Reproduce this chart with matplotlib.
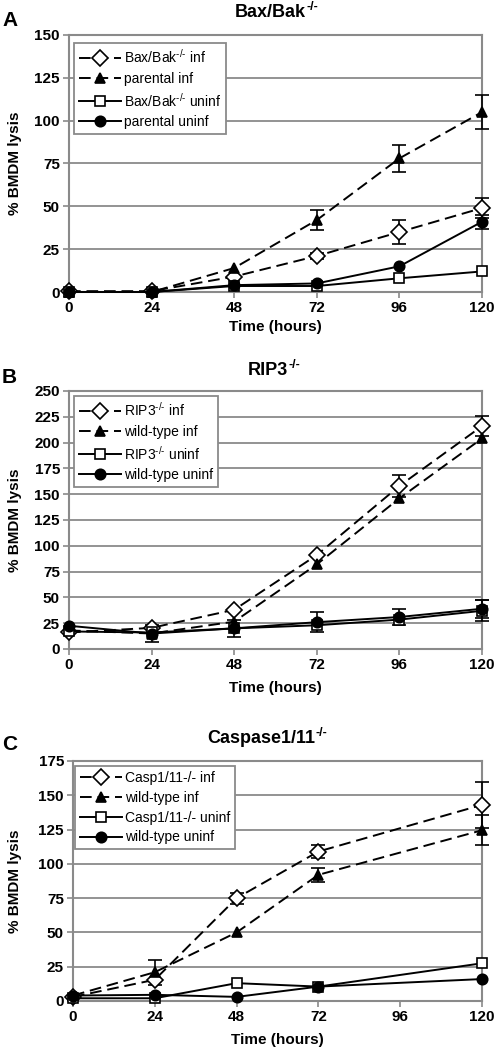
import numpy as np
import matplotlib
matplotlib.use("Agg")
import matplotlib.pyplot as plt

plt.rcParams['font.family'] = ['Liberation Sans', 'DejaVu Sans']
plt.rcParams['mathtext.fontset'] = 'custom'
plt.rcParams['mathtext.rm'] = 'Liberation Sans'
plt.rcParams['mathtext.it'] = 'Liberation Sans'
plt.rcParams['mathtext.bf'] = 'Liberation Sans:bold'

hours = [0, 24, 48, 72, 96, 120]
hours_c = [0, 24, 48, 72, 120]

# Panel A: Bax/Bak-/-
a_ko_inf = [0.5, 0.5, 9, 21, 35, 49]
a_ko_inf_err = [np.nan, np.nan, np.nan, 2, 7, 6]
a_wt_inf = [0, 0, 14, 42, 78, 105]
a_wt_inf_err = [np.nan, np.nan, np.nan, 6, 8, 10]
a_ko_uninf = [0, 0, 3.5, 3.5, 8, 12]
a_ko_uninf_err = [np.nan] * 6
a_wt_uninf = [0, 0, 4, 5, 15, 41]
a_wt_uninf_err = [np.nan, np.nan, np.nan, np.nan, np.nan, 4]

# Panel B: RIP3-/-
b_ko_inf = [16, 20.5, 38, 91, 158, 216]
b_ko_inf_err = [np.nan, np.nan, np.nan, np.nan, 11, 10]
b_wt_inf = [18, 15, 26.5, 82, 146, 204]
b_wt_inf_err = [np.nan] * 6
b_ko_uninf = [17, 16, 20, 23, 28.5, 37]
b_ko_uninf_err = [np.nan, np.nan, np.nan, np.nan, np.nan, 10]
b_wt_uninf = [22.5, 15, 20, 26, 31, 39]
b_wt_uninf_err = [np.nan, 8.5, 8, 9.5, 8, 8.5]

# Panel C: Caspase1/11-/-
c_ko_inf = [3, 15.5, 75, 109, 143]
c_ko_inf_err = [np.nan, np.nan, 4, 5, 17]
c_wt_inf = [4, 21, 50, 92, 124.5]
c_wt_inf_err = [np.nan, 9, np.nan, 5, 11]
c_ko_uninf = [2, 2, 13, 10.5, 27.5]
c_ko_uninf_err = [np.nan] * 5
c_wt_uninf = [4, 4.5, 3, 10.5, 16]
c_wt_uninf_err = [np.nan] * 5

W, H = 495, 1049
fig = plt.figure(figsize=(W / 100, H / 100), dpi=100)

def fx(px):
    return px / W

def fy(py):
    return 1 - py / H

GRID = '#8a8a8a'

def make_panel(rect_px, x, series, ymax, title_main, title_x0, title_base, letter, letter_y,
               xlabel_y, legend_rect):
    left, top, right, bottom = rect_px
    ax = fig.add_axes([fx(left), fy(bottom), fx(right - left), (bottom - top) / H])
    ax.set_xlim(0, 120)
    ax.set_ylim(0, ymax)
    ax.set_xticks(hours)
    ax.set_yticks(np.arange(0, ymax + 1, 25))
    ax.yaxis.grid(True, color=GRID, linewidth=1.3)
    ax.set_axisbelow(True)
    for s in ax.spines.values():
        s.set_color(GRID)
        s.set_linewidth(1.5)
    ax.tick_params(axis='both', colors=GRID, length=4, width=1.2, labelcolor='black',
                   labelsize=11, pad=2.5)
    for lab in ax.get_xticklabels() + ax.get_yticklabels():
        lab.set_fontweight('bold')
    handles = []
    for vals, err, marker, mfc, ls, ms, label in series:
        ax.errorbar(x, vals, yerr=err, fmt='none', ecolor='black', elinewidth=1.2,
                    capsize=5, capthick=1.2, zorder=3, clip_on=False)
        ln, = ax.plot(x, vals, color='black', linestyle=ls, linewidth=1.4,
                      marker=marker, markerfacecolor=mfc, markeredgecolor='black',
                      markeredgewidth=1.2, markersize=ms, zorder=4, clip_on=False,
                      dashes=(6, 3) if ls == '--' else (None, None), label=label)
        handles.append(ln)
    lx0, ly0, lx1, ly1 = legend_rect
    leg = ax.legend(handles=handles, loc='upper left',
                    bbox_to_anchor=((lx0 - left) / (right - left), 1 - (ly0 - top) / (bottom - top)),
                    borderaxespad=0, frameon=True, fancybox=False, framealpha=1,
                    edgecolor=GRID, fontsize=10, handlelength=3.0, handletextpad=0.25,
                    labelspacing=0.42, borderpad=0.35)
    leg.get_frame().set_linewidth(1.3)
    leg.set_zorder(5)
    fig.text(fx(title_x0), fy(title_base), title_main, ha='right', va='baseline',
             fontsize=13, fontweight='bold')
    fig.text(fx(title_x0 + 0.5), fy(title_base - 7), '-/-', ha='left', va='baseline',
             fontsize=9, fontweight='bold')
    fig.text(fx(2), fy(letter_y), letter, ha='left', va='center', fontsize=15,
             fontweight='bold')
    fig.text(fx((left + right) / 2), fy(xlabel_y), 'Time (hours)', ha='center',
             va='center', fontsize=11, fontweight='bold')
    fig.text(fx(15), fy((top + bottom) / 2), '% BMDM lysis', ha='center', va='center',
             rotation=90, fontsize=11, fontweight='bold')
    return ax

series_a = [
    (a_ko_inf, a_ko_inf_err, 'D', 'white', '--', 8.5, 'Bax/Bak$^{\\text{-/-}}$ inf'),
    (a_wt_inf, a_wt_inf_err, '^', 'black', '--', 7.5, 'parental inf'),
    (a_ko_uninf, a_ko_uninf_err, 's', 'white', '-', 7.5, 'Bax/Bak$^{\\text{-/-}}$ uninf'),
    (a_wt_uninf, a_wt_uninf_err, 'o', 'black', '-', 7.5, 'parental uninf'),
]
make_panel((69, 35, 482, 292), hours, series_a, 150, 'Bax/Bak', 306, 17, 'A', 20.5,
           327, (74, 43, 224, 122))

series_b = [
    (b_ko_inf, b_ko_inf_err, 'D', 'white', '--', 8.5, 'RIP3$^{\\text{-/-}}$ inf'),
    (b_wt_inf, b_wt_inf_err, '^', 'black', '--', 7.5, 'wild-type inf'),
    (b_ko_uninf, b_ko_uninf_err, 's', 'white', '-', 7.5, 'RIP3$^{\\text{-/-}}$ uninf'),
    (b_wt_uninf, b_wt_uninf_err, 'o', 'black', '-', 7.5, 'wild-type uninf'),
]
make_panel((69, 391, 482, 649), hours, series_b, 250, 'RIP3', 288, 375, 'B', 377.5,
           688, (74, 396, 224, 479))

series_c = [
    (c_ko_inf, c_ko_inf_err, 'D', 'white', '--', 8.5, 'Casp1/11-/- inf'),
    (c_wt_inf, c_wt_inf_err, '^', 'black', '--', 7.5, 'wild-type inf'),
    (c_ko_uninf, c_ko_uninf_err, 's', 'white', '-', 7.5, 'Casp1/11-/- uninf'),
    (c_wt_uninf, c_wt_uninf_err, 'o', 'black', '-', 7.5, 'wild-type uninf'),
]
make_panel((73, 761, 482, 1001), hours_c, series_c, 175, 'Caspase1/11', 315, 743, 'C',
           745, 1040, (75, 766, 231, 854))

fig.savefig('out.png', dpi=100)
